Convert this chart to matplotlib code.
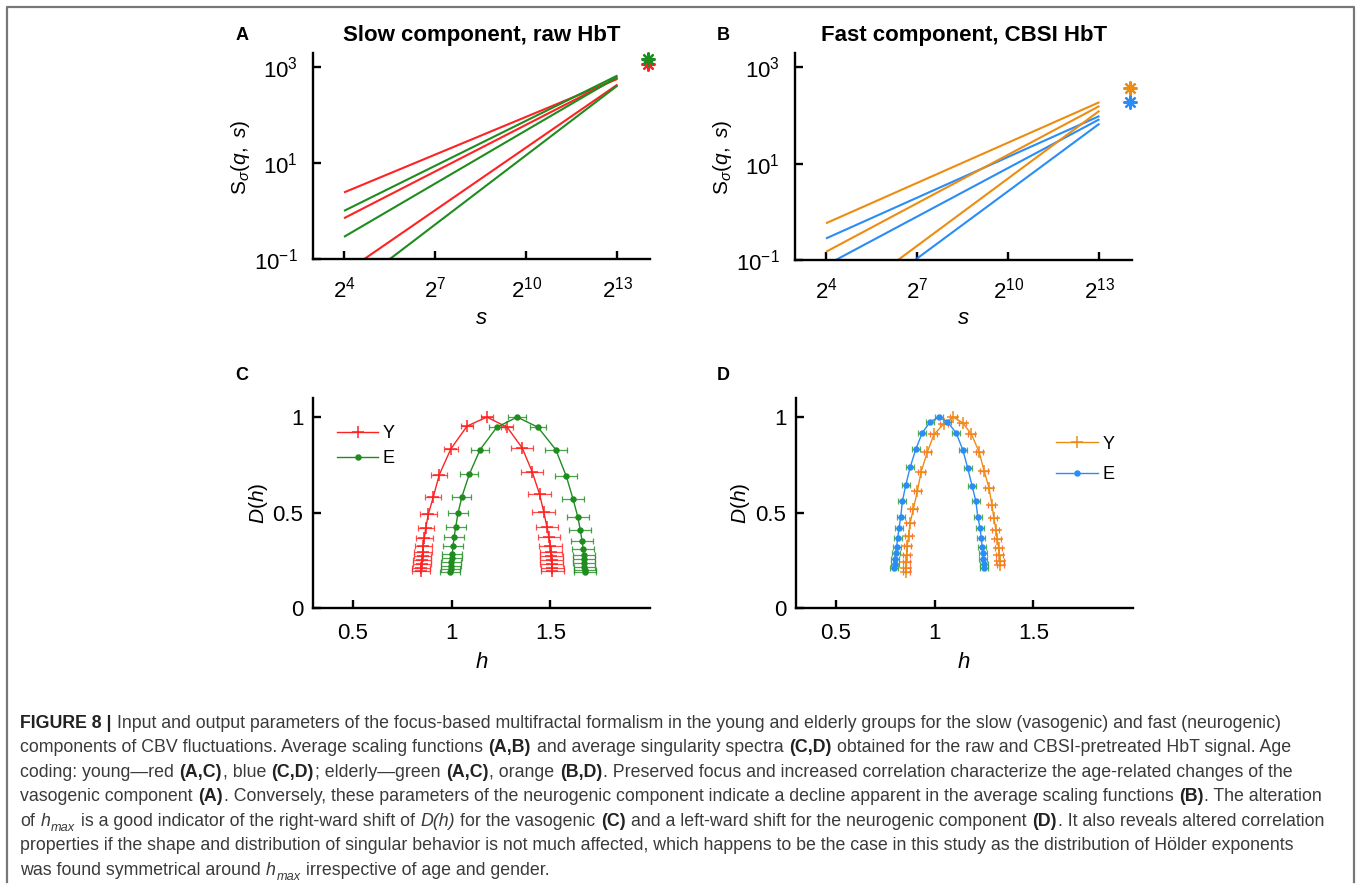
import matplotlib
matplotlib.use('Agg')
import matplotlib.pyplot as plt
from matplotlib import font_manager
from matplotlib.lines import Line2D

W, H, DPI = 1357, 893, 100

# ---------------- data ----------------
# Panel A: scaling functions (power-law fits), values at s = 2^4 and s = 2^13
s_fit = [2**4, 2**13]
A_young_S16 = [2.45, 0.71, 0.051]
A_young_S8192 = [575, 603, 437]
A_elderly_S16 = [1.01, 0.29, 0.0186]
A_elderly_S8192 = [676, 631, 417]
A_focus_s = 2**14
A_focus_young = 1150
A_focus_elderly = 1500

# Panel B
B_young_S16 = [0.58, 0.148, 0.0078]
B_young_S8192 = [190, 158, 126]
B_elderly_S16 = [0.28, 0.078, 0.0043]
B_elderly_S8192 = [98, 84, 68]
B_focus_s = 2**14
B_focus_young = 372
B_focus_elderly = 195

s_ticks = [2**4, 2**7, 2**10, 2**13]
s_ticklabels = ['$2^{4}$', '$2^{7}$', '$2^{10}$', '$2^{13}$']
S_ticks = [0.1, 10, 1000]
S_ticklabels = ['$10^{-1}$', '$10^{1}$', '$10^{3}$']

# Panel C: singularity spectra (raw HbT, slow)
C_Y_h = [0.845, 0.846, 0.848, 0.850, 0.852, 0.854, 0.856, 0.861, 0.869, 0.881, 0.906, 0.937, 0.996, 1.078,
         1.178,
         1.281, 1.357, 1.408, 1.445, 1.466, 1.483, 1.493, 1.500, 1.503, 1.505, 1.507, 1.508, 1.509, 1.510]
C_Y_D = [0.193, 0.210, 0.228, 0.249, 0.272, 0.295, 0.326, 0.368, 0.421, 0.490, 0.579, 0.698, 0.834, 0.953,
         1.000,
         0.947, 0.839, 0.713, 0.597, 0.505, 0.423, 0.370, 0.326, 0.295, 0.272, 0.249, 0.228, 0.210, 0.193]
C_Y_err = [0.045, 0.045, 0.045, 0.045, 0.044, 0.044, 0.043, 0.043, 0.042, 0.042, 0.041, 0.040, 0.035, 0.030,
           0.030,
           0.030, 0.055, 0.055, 0.056, 0.057, 0.058, 0.058, 0.058, 0.058, 0.058, 0.058, 0.058, 0.058, 0.058]
C_E_h = [0.993, 0.994, 0.996, 0.998, 1.000, 1.003, 1.007, 1.012, 1.020, 1.032, 1.052, 1.089, 1.144, 1.229,
         1.332,
         1.437, 1.527, 1.581, 1.615, 1.639, 1.652, 1.661, 1.666, 1.669, 1.671, 1.672, 1.673, 1.674, 1.675]
C_E_D = [0.190, 0.205, 0.222, 0.240, 0.260, 0.285, 0.325, 0.370, 0.423, 0.497, 0.584, 0.700, 0.830, 0.947,
         1.000,
         0.947, 0.830, 0.690, 0.570, 0.478, 0.407, 0.350, 0.310, 0.280, 0.255, 0.235, 0.215, 0.200, 0.190]
C_E_err = [0.050, 0.050, 0.050, 0.050, 0.050, 0.050, 0.050, 0.050, 0.050, 0.050, 0.048, 0.045, 0.045, 0.040,
           0.047,
           0.040, 0.055, 0.055, 0.055, 0.055, 0.055, 0.055, 0.055, 0.055, 0.055, 0.055, 0.055, 0.055, 0.055]

# Panel D: singularity spectra (CBSI HbT, fast)
D_Y_h = [0.856, 0.857, 0.857, 0.858, 0.861, 0.868, 0.875, 0.892, 0.912, 0.931, 0.963, 0.996, 1.047,
         1.094,
         1.142, 1.186, 1.225, 1.250, 1.275, 1.290, 1.300, 1.310, 1.317, 1.324, 1.328, 1.331, 1.333]
D_Y_D = [0.186, 0.212, 0.242, 0.277, 0.326, 0.377, 0.444, 0.520, 0.611, 0.713, 0.818, 0.909, 0.965,
         1.000,
         0.970, 0.910, 0.818, 0.720, 0.630, 0.540, 0.470, 0.410, 0.360, 0.316, 0.277, 0.247, 0.224]
D_Y_err = [0.018] * 27
D_E_h = [0.795, 0.797, 0.799, 0.802, 0.807, 0.812, 0.819, 0.828, 0.836, 0.853, 0.876, 0.905, 0.937, 0.978,
         1.022,
         1.064, 1.108, 1.142, 1.167, 1.189, 1.209, 1.218, 1.230, 1.236, 1.241, 1.244, 1.246, 1.248, 1.250]
D_E_D = [0.207, 0.230, 0.255, 0.286, 0.321, 0.365, 0.418, 0.479, 0.558, 0.642, 0.739, 0.834, 0.918, 0.976,
         1.000,
         0.976, 0.918, 0.830, 0.734, 0.641, 0.558, 0.479, 0.418, 0.365, 0.321, 0.286, 0.255, 0.230, 0.207]
D_E_err = [0.020] * 29

h_ticks = [0.5, 1, 1.5]
h_ticklabels = ['0.5', '1', '1.5']
Dh_ticks = [0, 0.5, 1]
Dh_ticklabels = ['0', '0.5', '1']

legend_labels = ['Y', 'E']

# ---------------- style ----------------
RED = '#ff2222'
GREEN = '#1f8c1f'
ORANGE = '#ee8c12'
BLUE = '#2a8cf5'
FONT = 'Liberation Sans'

plt.rcParams['font.family'] = [FONT, 'DejaVu Sans']
plt.rcParams['mathtext.fontset'] = 'custom'
plt.rcParams['mathtext.rm'] = FONT
plt.rcParams['mathtext.it'] = FONT + ':italic'
plt.rcParams['mathtext.bf'] = FONT + ':bold'

fig = plt.figure(figsize=(W / DPI, H / DPI), dpi=DPI)
fig.patch.set_facecolor('white')


def rect(l, r, t, b):
    return [l / W, 1 - b / H, (r - l) / W, (b - t) / H]


def style_axes(ax, xpad=9, ypad=9):
    for sp in ['top', 'right']:
        ax.spines[sp].set_visible(False)
    for sp in ['left', 'bottom']:
        ax.spines[sp].set_linewidth(1.7)
    ax.tick_params(which='major', direction='in', length=6, width=1.7, labelsize=16)
    ax.tick_params(axis='x', pad=xpad)
    ax.tick_params(axis='y', pad=ypad)
    ax.tick_params(which='minor', length=0)
    ax.set_facecolor('none')


axA = fig.add_axes(rect(313, 650, 53, 259))
axB = fig.add_axes(rect(795, 1132, 53, 260))
axC = fig.add_axes(rect(313, 650, 398, 608))
axD = fig.add_axes(rect(796, 1133, 398, 608))

star = (8, 2, 0)


def scaling_panel(ax, young16, young8192, eld16, eld8192, ycol, ecol, focus_s, fy, fe):
    ax.set_xscale('log', base=2)
    ax.set_yscale('log')
    for i in range(3):
        ax.plot(s_fit, [young16[i], young8192[i]], color=ycol, lw=1.5, solid_capstyle='butt')
        ax.plot(s_fit, [eld16[i], eld8192[i]], color=ecol, lw=1.5, solid_capstyle='butt')
    ax.plot([focus_s], [fy], marker=star, ms=10, mew=1.6, color=ycol, clip_on=False, ls='none')
    ax.plot([focus_s], [fe], marker=star, ms=10, mew=1.6, color=ecol, clip_on=False, ls='none')
    ax.set_xlim(2**2.98, 2**14.07)
    ax.set_ylim(0.1, 10**3.3)
    ax.set_xticks(s_ticks)
    ax.set_xticklabels(s_ticklabels)
    ax.set_yticks(S_ticks)
    ax.set_yticklabels(S_ticklabels)
    ax.minorticks_off()
    style_axes(ax, xpad=13, ypad=11)


scaling_panel(axA, A_young_S16, A_young_S8192, A_elderly_S16, A_elderly_S8192,
              RED, GREEN, A_focus_s, A_focus_young, A_focus_elderly)
scaling_panel(axB, B_young_S16, B_young_S8192, B_elderly_S16, B_elderly_S8192,
              ORANGE, BLUE, B_focus_s, B_focus_young, B_focus_elderly)


def spectrum(ax, h, D, err, col, ecol, marker, ms, label):
    ax.errorbar(h, D, xerr=err, fmt='none', ecolor=ecol, elinewidth=0.9,
                capsize=2.2, capthick=0.9, alpha=0.8, zorder=2)
    ax.plot(h, D, color=col, lw=1.0, marker=marker, ms=ms, mew=1.1,
            label=label, zorder=3)


spectrum(axC, C_Y_h, C_Y_D, C_Y_err, RED, RED, '+', 8, legend_labels[0])
spectrum(axC, C_E_h, C_E_D, C_E_err, GREEN, GREEN, '.', 7, legend_labels[1])
spectrum(axD, D_Y_h, D_Y_D, D_Y_err, ORANGE, '#ff4a2a', '+', 8, legend_labels[0])
spectrum(axD, D_E_h, D_E_D, D_E_err, BLUE, '#2e9a35', '.', 7, legend_labels[1])

for ax in (axC, axD):
    ax.set_xlim(0.297, 2.005)
    ax.set_ylim(0, 1.1)
    ax.set_xticks(h_ticks)
    ax.set_xticklabels(h_ticklabels)
    ax.set_yticks(Dh_ticks)
    ax.set_yticklabels(Dh_ticklabels)
    style_axes(ax, xpad=11, ypad=7)

axC.legend(loc='upper left', bbox_to_anchor=(0.071, 0.87), frameon=False, fontsize=13,
           handlelength=2.3, handletextpad=0.25, labelspacing=0.45, borderpad=0, borderaxespad=0)
axD.legend(loc='upper left', bbox_to_anchor=(0.772, 0.82), frameon=False, fontsize=13,
           handlelength=2.3, handletextpad=0.25, labelspacing=0.75, borderpad=0, borderaxespad=0)


def ftext(x, y, s, **kw):
    return fig.text(x / W, 1 - y / H, s, **kw)


# titles and panel letters
ftext(481.5, 36, 'Slow component, raw HbT', ha='center', va='center', fontsize=16, weight='bold')
ftext(964, 36, 'Fast component, CBSI HbT', ha='center', va='center', fontsize=16, weight='bold')
for letter, x, y in [('A', 242, 36), ('B', 723, 36), ('C', 242, 375), ('D', 723, 375)]:
    ftext(x, y, letter, ha='center', va='center', fontsize=13, weight='bold')

# axis labels
for xc in (481.5, 963.5):
    ftext(xc, 318, '$s$', ha='center', va='center', fontsize=16)
    ftext(xc, 662, '$h$', ha='center', va='center', fontsize=16)
for xc in (240, 722):
    ftext(xc, 157, r'$\mathrm{S}_{\sigma}(q,\ s)$', ha='center', va='center', rotation=90, fontsize=15)
for xc in (258, 740):
    ftext(xc, 503, '$D(h)$', ha='center', va='center', rotation=90, fontsize=15)

# frame around figure
fig.add_artist(Line2D([7 / W, 7 / W, 1354 / W, 1354 / W],
                      [1 - 882 / H, 1 - 6.5 / H, 1 - 6.5 / H, 1 - 882 / H],
                      transform=fig.transFigure, color='#777777', lw=1.6))

# ---------------- caption ----------------
names = {f.name for f in font_manager.fontManager.ttflist}
CAP_FONT = 'Liberation Sans Narrow' if 'Liberation Sans Narrow' in names else FONT
CAP_COLOR = '#3a3a3a'

caption_lines = [
    [("FIGURE 8 |", 'b'), (" Input and output parameters of the focus-based multifractal formalism in the young and elderly groups for the slow (vasogenic) and fast (neurogenic)", 'n')],
    [("components of CBV fluctuations. Average scaling functions ", 'n'), ("(A,B)", 'b'), (" and average singularity spectra ", 'n'), ("(C,D)", 'b'), (" obtained for the raw and CBSI-pretreated HbT signal. Age", 'n')],
    [("coding: young\u2014red ", 'n'), ("(A,C)", 'b'), (", blue ", 'n'), ("(C,D)", 'b'), ("; elderly\u2014green ", 'n'), ("(A,C)", 'b'), (", orange ", 'n'), ("(B,D)", 'b'), (". Preserved focus and increased correlation characterize the age-related changes of the", 'n')],
    [("vasogenic component ", 'n'), ("(A)", 'b'), (". Conversely, these parameters of the neurogenic component indicate a decline apparent in the average scaling functions ", 'n'), ("(B)", 'b'), (". The alteration", 'n')],
    [("of ", 'n'), ("h", 'i'), ("max", 'sub'), (" is a good indicator of the right-ward shift of ", 'n'), ("D(h)", 'i'), (" for the vasogenic ", 'n'), ("(C)", 'b'), (" and a left-ward shift for the neurogenic component ", 'n'), ("(D)", 'b'), (". It also reveals altered correlation", 'n')],
    [("properties if the shape and distribution of singular behavior is not much affected, which happens to be the case in this study as the distribution of H\u00f6lder exponents", 'n')],
    [("was found symmetrical around ", 'n'), ("h", 'i'), ("max", 'sub'), (" irrespective of age and gender.", 'n')],
]

renderer = fig.canvas.get_renderer()


def seg_props(kind, size):
    p = dict(family=[CAP_FONT, 'DejaVu Sans'], fontsize=size, color=CAP_COLOR)
    if kind == 'b':
        p['weight'] = 'bold'
        p['color'] = '#222222'
    elif kind in ('i', 'sub'):
        p['style'] = 'italic'
    if kind == 'sub':
        p['fontsize'] = size * 0.72
    return p


def text_width(s, props):
    t = fig.text(0, 0, s, **props)
    w = t.get_window_extent(renderer).width
    t.remove()
    return w


def layout_line(segs, x0, ybase, size, draw=True):
    x = x0
    space_cache = {}
    for text, kind in segs:
        props = seg_props(kind, size)
        if kind not in space_cache:
            space_cache[kind] = text_width('n n', props) - text_width('nn', props)
        sw = space_cache[kind]
        lead = len(text) - len(text.lstrip(' '))
        trail = len(text) - len(text.rstrip(' '))
        core = text.strip(' ')
        x += lead * sw
        yb = ybase + (size * 0.30 * DPI / 72 if kind == 'sub' else 0)
        t = fig.text(x / W, 1 - yb / H, core, ha='left', va='baseline', **props)
        w = t.get_window_extent(renderer).width
        if not draw:
            t.remove()
        x += w + (1.0 if kind in ('i', 'b') else 0.5)
        x += trail * sw
    return x - x0


trial = 12.0
w4 = layout_line(caption_lines[3], 20, 800, trial, draw=False)
cap_size = trial * (1331 - 20) / w4

baselines = [727.5, 752.0, 776.6, 801.2, 825.8, 850.4, 875.0]
for segs, yb in zip(caption_lines, baselines):
    layout_line(segs, 20, yb, cap_size, draw=True)

fig.savefig('out.png', dpi=DPI, facecolor='white')
